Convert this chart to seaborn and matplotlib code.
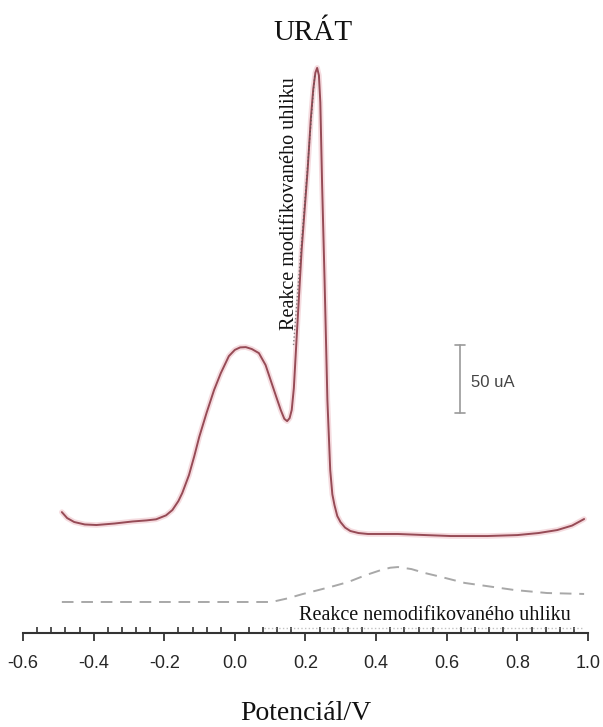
import numpy as np
import pandas as pd
import matplotlib
matplotlib.use('Agg')
import matplotlib.pyplot as plt
import seaborn as sns

# potencial (V) a proud (uA) nactene z obrazku
potencial_mod = [-0.490, -0.475, -0.455, -0.425, -0.392, -0.341, -0.290, -0.250, -0.223,
                 -0.195, -0.177, -0.160, -0.149, -0.130, -0.115, -0.101, -0.080, -0.059,
                 -0.040, -0.017, 0.000, 0.015, 0.031, 0.048, 0.068, 0.087, 0.104, 0.118,
                 0.130, 0.140, 0.148, 0.155, 0.161, 0.167, 0.175, 0.189, 0.206, 0.215,
                 0.222, 0.228, 0.233, 0.238, 0.242, 0.247, 0.254, 0.262, 0.270, 0.276,
                 0.282, 0.290, 0.299, 0.312, 0.327, 0.350, 0.377, 0.462, 0.540, 0.611,
                 0.715, 0.800, 0.860, 0.913, 0.955, 0.989]
proud_mod = [88.9, 84.5, 81.6, 79.8, 79.4, 80.5, 82.0, 82.8, 83.6,
             86.5, 90.4, 97.0, 102.9, 116.1, 130.0, 144.1, 162.0, 178.6,
             191.0, 203.6, 208.2, 210.0, 210.2, 208.8, 205.8, 197.0, 183.8, 173.0,
             163.9, 157.5, 155.8, 158.0, 164.0, 180.0, 217.6, 281.5, 340.3, 378.0,
             400.0, 412.0, 415.5, 410.0, 390.0, 330.0, 259.5, 171.3, 119.8, 102.0,
             94.1, 86.0, 81.6, 77.5, 75.0, 73.5, 72.8, 72.8, 72.0, 71.3,
             71.3, 72.0, 73.5, 75.7, 79.0, 83.8]

potencial_nemod = [-0.490, -0.300, -0.100, 0.000, 0.104, 0.150, 0.190, 0.237, 0.280,
                   0.321, 0.370, 0.414, 0.440, 0.462, 0.500, 0.538, 0.580, 0.651,
                   0.700, 0.792, 0.884, 0.989]
proud_nemod = [22.8, 22.8, 22.8, 22.8, 22.8, 25.5, 28.5, 31.6, 34.5,
               37.5, 42.5, 46.3, 48.0, 48.5, 47.0, 44.1, 41.5, 36.8,
               35.0, 31.6, 29.4, 28.7]

x_ticks = [-0.6, -0.4, -0.2, 0.0, 0.2, 0.4, 0.6, 0.8, 1.0]
x_minor = np.arange(-0.6, 1.0001, 0.04)

df_mod = pd.DataFrame({'potencial': potencial_mod, 'proud': proud_mod})
df_nemod = pd.DataFrame({'potencial': potencial_nemod, 'proud': proud_nemod})

sns.set_theme(style='white')
plt.rcParams['font.family'] = ['Liberation Serif', 'DejaVu Serif']

fig = plt.figure(figsize=(6.03, 7.27), dpi=100)
ax = fig.add_axes([23 / 603, 1 - 633 / 727, (588 - 23) / 603, (633 - 45) / 727])

# jemna ruzova zare pod krivkou
sns.lineplot(data=df_mod, x='potencial', y='proud', ax=ax, color='#f1cdd2',
             linewidth=4, alpha=0.7, sort=False, solid_joinstyle='round')
sns.lineplot(data=df_mod, x='potencial', y='proud', ax=ax, color='#964b56',
             linewidth=1.4, sort=False, solid_joinstyle='round')
sns.lineplot(data=df_nemod, x='potencial', y='proud', ax=ax, color='#a8a8a8',
             linewidth=1.4, linestyle=(0, (6, 4)), sort=False)

# teckovane pomocne cary
ax.plot([0.166, 0.226], [211.7, 410.0], color='#555555', linestyle=':', linewidth=1.0, alpha=0.7)
ax.plot([0.082, 0.983], [3.7, 3.7], color='#999999', linestyle=':', linewidth=1.0, alpha=0.6)

# meritko 50 uA
ax.plot([0.637, 0.637], [161.7, 211.7], color='#9a9a9a', linewidth=1.2)
ax.plot([0.623, 0.651], [161.7, 161.7], color='#9a9a9a', linewidth=1.2)
ax.plot([0.623, 0.651], [211.7, 211.7], color='#9a9a9a', linewidth=1.2)
ax.text(0.668, 184, '50 uA', fontsize=12, color='#444444', va='center', ha='left',
        family=['Liberation Sans', 'DejaVu Sans'])

ax.text(0.155, 316, 'Reakce modifikovaného uhliku', rotation=90, fontsize=14.5,
        ha='center', va='center', color='#111111')
ax.text(0.566, 12.5, 'Reakce nemodifikovaného uhliku', fontsize=14.5,
        ha='center', va='center', color='#111111')

ax.set_xlim(-0.6, 1.0)
ax.set_ylim(0, (633 - 45) * 50 / 68)

for s in ['top', 'right', 'left']:
    ax.spines[s].set_visible(False)
ax.spines['bottom'].set_color('#333333')
ax.spines['bottom'].set_linewidth(1.5)

ax.set_yticks([])
ax.set_xticks(x_ticks)
ax.set_xticklabels([f'{t:.1f}' for t in x_ticks], family=['Liberation Sans', 'DejaVu Sans'],
                   fontsize=13)
ax.set_xticks(x_minor, minor=True)
ax.tick_params(axis='x', which='major', direction='out', length=6, width=1.3,
               color='#333333', pad=10, bottom=True)
ax.tick_params(axis='x', which='minor', direction='in', length=4, width=1.2,
               color='#333333', bottom=True)
ax.set_xlabel('Potenciál/V', fontsize=20, labelpad=21, color='#111111')
ax.set_ylabel('')

fig.text(313 / 603, 1 - 33 / 727, 'URÁT', fontsize=21, ha='center', va='center', color='#111111')

plt.savefig('out.png', dpi=100)
